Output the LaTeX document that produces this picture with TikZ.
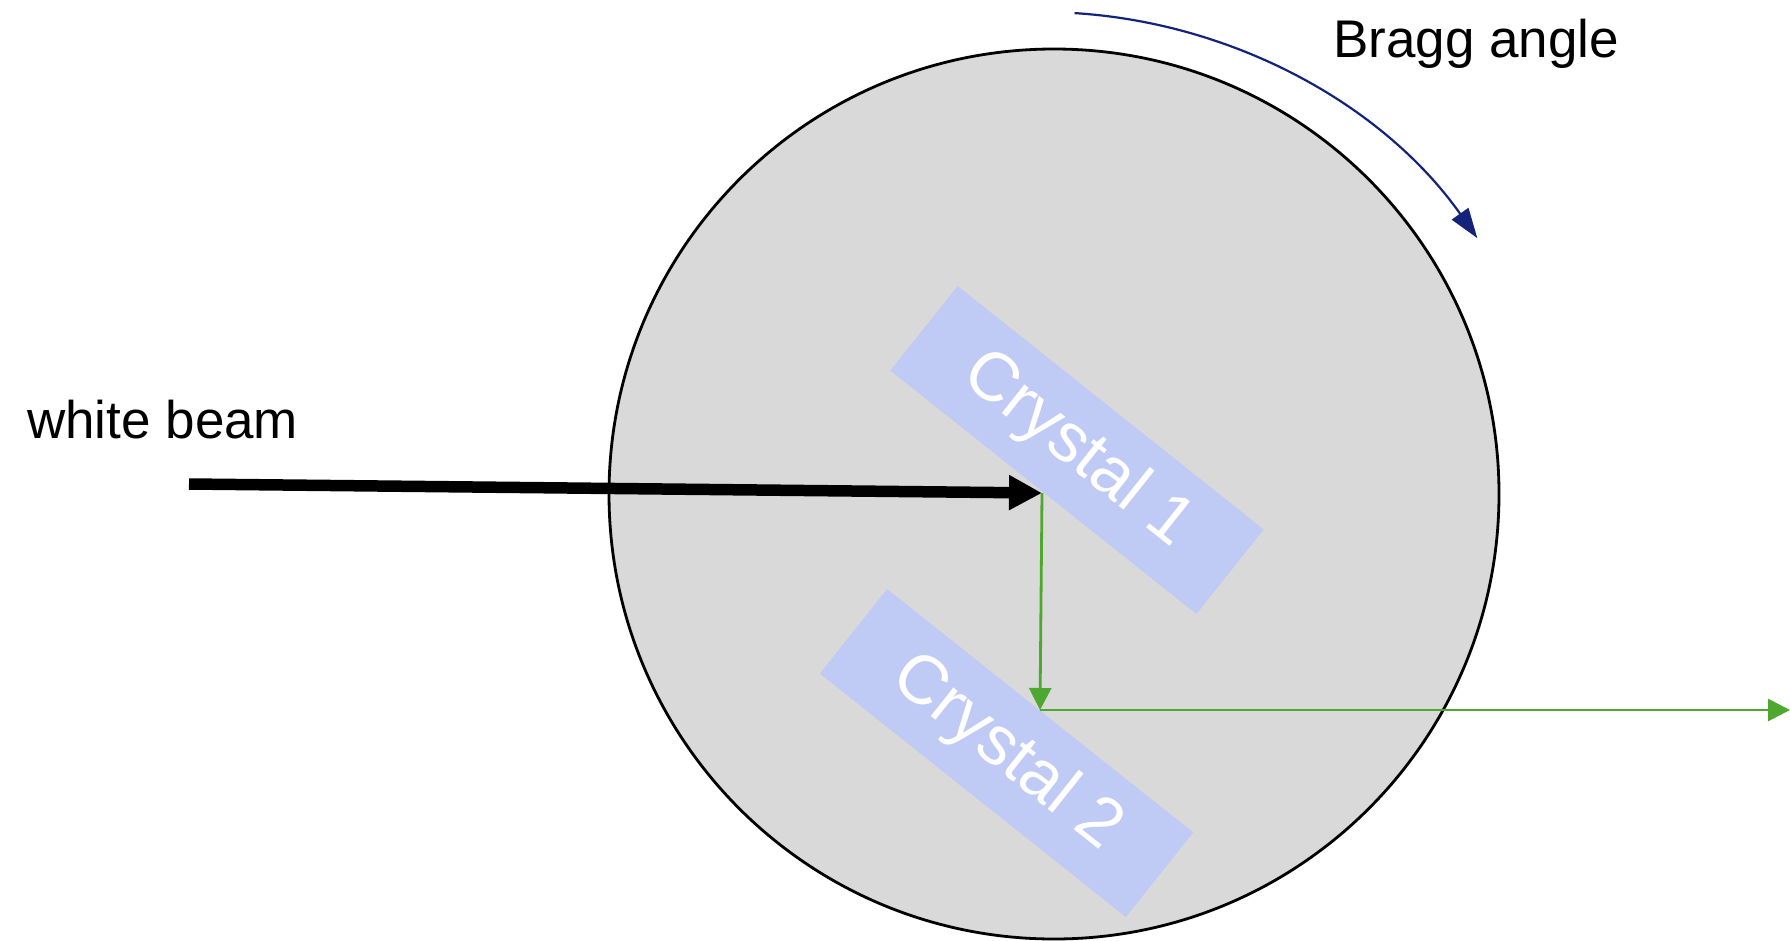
\documentclass[tikz,border=0pt]{standalone}
\usepackage{fontspec}
\setmainfont{Liberation Sans}
\usetikzlibrary{arrows.meta}
\definecolor{circfill}{HTML}{D9D9D9}
\definecolor{crys}{HTML}{BFCAF5}
\definecolor{beamgreen}{HTML}{4EA72E}
\definecolor{braggnavy}{HTML}{13237A}
\begin{document}
\begin{tikzpicture}[x=1pt,y=-1pt,
  lbl/.style={font=\fontsize{53}{60}\selectfont, inner sep=0, anchor=base west},
  crystal/.style={fill=crys, minimum width=391pt, minimum height=108pt, inner sep=0, rotate=-38.5, text=white, font=\fontsize{69}{74}\selectfont},
  whitebeam/.style={line width=11.5pt, -{Triangle[length=33pt,width=33pt]}},
  greenray/.style={beamgreen, line width=2.8pt, -{Triangle[length=22pt,width=22pt]}},
  bragg/.style={braggnavy, line width=2.2pt, -{Triangle[length=30pt,width=20pt]}}]
\useasboundingbox (0,0) rectangle (1790,940);
\node[circle, draw=black, line width=2.8pt, fill=circfill, minimum size=890pt, inner sep=0] (drum) at (1054,494) {};
\node[crystal] (c1) at (1077,450) {Crystal 1};
\node[crystal] (c2) at (1006.5,753) {Crystal 2};
\node[lbl] (wb) at (27,438) {white beam};
\node[lbl] (ba) at (1333,57) {Bragg angle};
\coordinate (src) at (189,484);
\coordinate (hit1) at (1042,493);
\coordinate (hit2) at (1040,710);
\coordinate (out) at (1790,710);
\coordinate (bc) at (1041,546);
\draw[whitebeam] (src) -- (hit1);
\draw[greenray] (hit1) -- (hit2);
\draw[greenray] (hit2) -- (out);
\draw[bragg] (bc) ++(-86.4:534) arc[start angle=-86.4, end angle=-35.2, radius=534];
\end{tikzpicture}
\end{document}
